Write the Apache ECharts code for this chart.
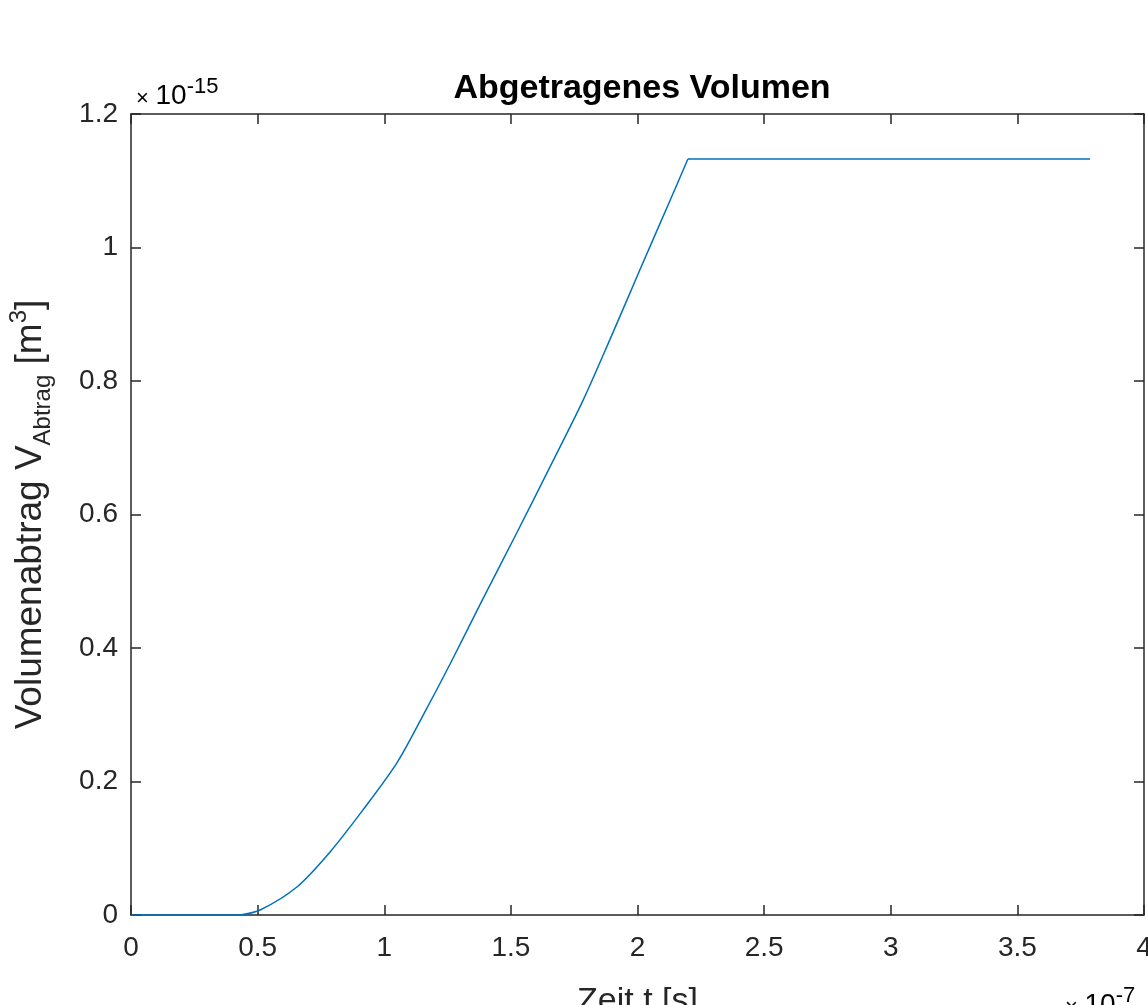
<html>
    <head>
        <meta charset="utf-8">
        <script src="https://cdn.jsdelivr.net/npm/echarts@6/dist/echarts.min.js"></script>
    </head>
    <body style="margin:0;background:#fff;">
        <div id="main" style="width:1148px;height:1005px;"></div>

        <script>
            // Zeit in 1e-7 s, Volumen in 1e-15 m^3
            var timeVals = [0, 0.43, 0.51, 0.655, 0.786, 0.916, 1.05, 1.149, 1.26, 1.39,
                1.524, 1.654, 1.785, 1.891, 2.01, 2.128, 2.199, 3.787];
            var volVals = [0, 0, 0.0075, 0.042, 0.0945, 0.1575, 0.228, 0.296, 0.376, 0.474,
                0.573, 0.671, 0.771, 0.862, 0.967, 1.070, 1.1325, 1.1325];
            var xTicks = [0, 0.5, 1, 1.5, 2, 2.5, 3, 3.5, 4];
            var yTicks = [0, 0.2, 0.4, 0.6, 0.8, 1, 1.2];
            var xExp = '-7';
            var yExp = '-15';
            // index where the ramp starts and where it ends (kinks)
            var rampStart = 1;
            var rampEnd = 16;

            var font = '"Liberation Sans", Arial, Helvetica, sans-serif';
            var axisCol = '#262626';

            var chart = echarts.init(document.getElementById('main'));

            var data = timeVals.map(function (t, i) {
                return [t, volVals[i]];
            });

            function axisBase(extra) {
                var a = {
                    type: 'value',
                    axisLine: {show: true, onZero: false, lineStyle: {color: axisCol, width: 1.5}},
                    axisTick: {show: true, inside: true, length: 10, lineStyle: {color: axisCol, width: 1.5}},
                    splitLine: {show: false},
                    axisLabel: {show: false}
                };
                for (var k in extra) a[k] = extra[k];
                return a;
            }

            function expText(exp) {
                return {
                    text: '{x|×}  {b|10}{e|' + exp + '}',
                    rich: {
                        x: {fontFamily: font, fontSize: 22, color: '#707070', lineHeight: 34, verticalAlign: 'bottom'},
                        b: {fontFamily: font, fontSize: 28, color: axisCol, lineHeight: 34, verticalAlign: 'bottom'},
                        e: {fontFamily: font, fontSize: 22, color: axisCol, lineHeight: 34, verticalAlign: 'top'}
                    }
                };
            }

            var lineStyle = {color: '#0072BD', width: 1.5};

            chart.setOption({
                animation: false,
                title: {
                    text: 'Abgetragenes Volumen',
                    left: 637,
                    textAlign: 'center',
                    top: 67,
                    textStyle: {fontFamily: font, fontSize: 34, fontWeight: 'bold', color: '#000'}
                },
                grid: {
                    left: 131, right: 4, top: 114, bottom: 90,
                    containLabel: false,
                    outerBoundsMode: 'none'
                },
                xAxis: [
                    axisBase({
                        position: 'bottom',
                        min: xTicks[0], max: xTicks[xTicks.length - 1], interval: 0.5,
                        axisLabel: {show: true, margin: 19, color: axisCol, fontFamily: font, fontSize: 28},
                        name: 'Zeit t [s]',
                        nameLocation: 'middle',
                        nameGap: 70,
                        nameTextStyle: {fontFamily: font, fontSize: 34, color: axisCol}
                    }),
                    axisBase({
                        position: 'top',
                        min: xTicks[0], max: xTicks[xTicks.length - 1], interval: 0.5
                    })
                ],
                yAxis: [
                    axisBase({
                        position: 'left',
                        min: yTicks[0], max: yTicks[yTicks.length - 1], interval: 0.2,
                        axisLabel: {show: true, margin: 13, color: axisCol, fontFamily: font, fontSize: 28},
                        name: '{a|Volumenabtrag V}{s|Abtrag}{a| [m}{p|3}{a|]}',
                        nameLocation: 'middle',
                        nameRotate: 90,
                        nameGap: 76,
                        nameTextStyle: {
                            fontFamily: font, color: axisCol,
                            rich: {
                                a: {fontFamily: font, fontSize: 37, color: axisCol, lineHeight: 48, verticalAlign: 'middle'},
                                s: {fontFamily: font, fontSize: 24, color: axisCol, lineHeight: 48, verticalAlign: 'bottom'},
                                p: {fontFamily: font, fontSize: 24, color: axisCol, lineHeight: 48, verticalAlign: 'top'}
                            }
                        }
                    }),
                    axisBase({
                        position: 'right',
                        min: yTicks[0], max: yTicks[yTicks.length - 1], interval: 0.2
                    })
                ],
                graphic: [
                    {type: 'text', left: 136, top: 76, style: expText(yExp)},
                    {type: 'text', left: 1065, top: 985, style: expText(xExp)}
                ],
                series: [
                    {
                        type: 'line',
                        data: data.slice(0, rampStart + 1),
                        showSymbol: false,
                        lineStyle: lineStyle
                    },
                    {
                        type: 'line',
                        data: data.slice(rampStart, rampEnd + 1),
                        showSymbol: false,
                        smooth: 0.3,
                        lineStyle: lineStyle
                    },
                    {
                        type: 'line',
                        data: data.slice(rampEnd),
                        showSymbol: false,
                        lineStyle: lineStyle
                    }
                ]
            });
        </script>
    </body>
</html>
